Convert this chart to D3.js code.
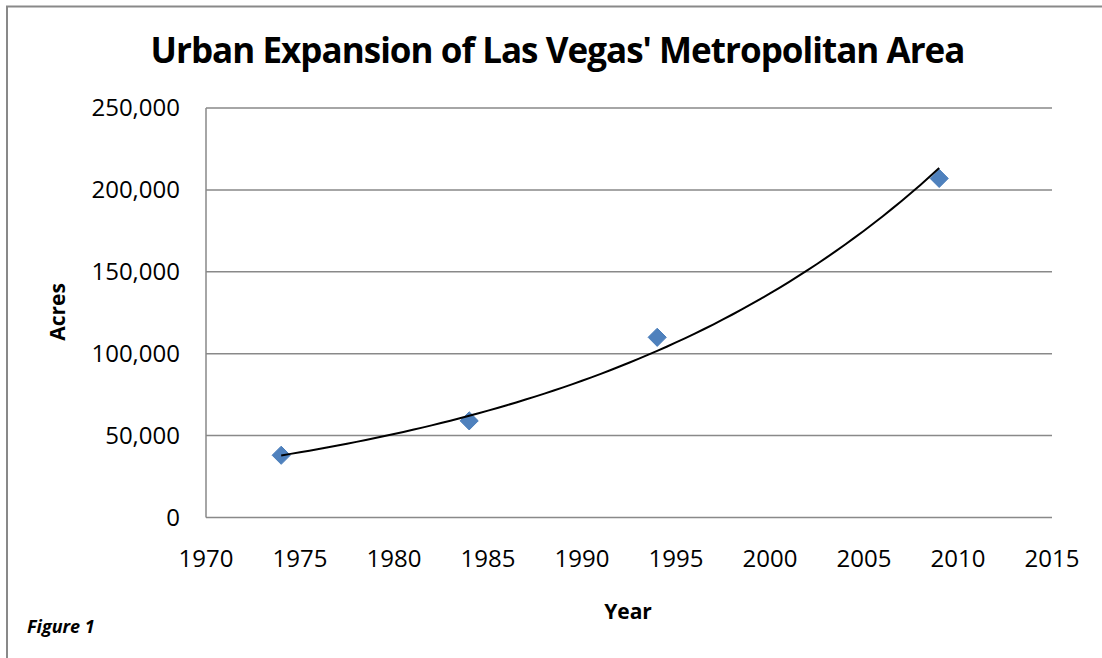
<!DOCTYPE html>
<html>
<head>
<meta charset="utf-8">
<script src="https://cdn.jsdelivr.net/npm/d3@7"></script>
<style>
  body { margin: 0; background: #fff; }
  svg { display: block; font-family: "Open Sans", sans-serif; }
</style>
</head>
<body>
<div id="chart"></div>
<script>
// Data
const years = [1974, 1984, 1994, 2009];
const acres = [38000, 59000, 110000, 207000];
const xTicks = [1970, 1975, 1980, 1985, 1990, 1995, 2000, 2005, 2010, 2015];
const yTicks = [0, 50000, 100000, 150000, 200000, 250000];

const width = 1102, height = 658;
const plot = { left: 206, right: 1052, top: 108, bottom: 517.5 };
const gridColor = "#898989";

const svg = d3.select("#chart").append("svg")
    .attr("width", width)
    .attr("height", height);

// Outer chart border (right/bottom edges fall outside the window)
svg.append("rect")
    .attr("x", 7).attr("y", 6.5)
    .attr("width", width + 20).attr("height", height + 20)
    .attr("fill", "none")
    .attr("stroke", gridColor)
    .attr("stroke-width", 2);

const x = d3.scaleLinear().domain([1970, 2015]).range([plot.left, plot.right]);
const y = d3.scaleLinear().domain([0, 250000]).range([plot.bottom, plot.top]);

// Horizontal gridlines
svg.append("g")
    .selectAll("line")
    .data(yTicks.filter(d => d > 0))
    .enter()
    .append("line")
    .attr("x1", plot.left).attr("x2", plot.right)
    .attr("y1", d => y(d)).attr("y2", d => y(d))
    .attr("stroke", gridColor)
    .attr("stroke-width", 1.5);

// Axes lines
svg.append("line")
    .attr("x1", plot.left).attr("x2", plot.left)
    .attr("y1", plot.top).attr("y2", plot.bottom)
    .attr("stroke", gridColor).attr("stroke-width", 1.5);
svg.append("line")
    .attr("x1", plot.left).attr("x2", plot.right)
    .attr("y1", plot.bottom).attr("y2", plot.bottom)
    .attr("stroke", gridColor).attr("stroke-width", 1.5);

// Tick labels
const fmt = d3.format(",");
svg.append("g")
    .selectAll("text")
    .data(yTicks)
    .enter()
    .append("text")
    .attr("x", 180)
    .attr("y", d => y(d) + 8)
    .attr("text-anchor", "end")
    .style("font-size", "24px")
    .style("fill", "#000")
    .text(d => fmt(d));

svg.append("g")
    .selectAll("text")
    .data(xTicks)
    .enter()
    .append("text")
    .attr("x", d => x(d))
    .attr("y", 567)
    .attr("text-anchor", "middle")
    .style("font-size", "24px")
    .style("fill", "#000")
    .text(d => d);

// Exponential trendline (least squares on log values, like Excel)
const logs = acres.map(v => Math.log(v));
const mx = d3.mean(years), my = d3.mean(logs);
const b = d3.sum(years, (v, i) => (v - mx) * (logs[i] - my)) / d3.sum(years, v => (v - mx) * (v - mx));
const a = my - b * mx;
const trendYears = d3.range(years[0], years[years.length - 1] + 0.01, 0.5);

const line = d3.line()
    .x(d => x(d))
    .y(d => y(Math.exp(a + b * d)));

// Markers
const diamond = d3.symbol().type(d3.symbolDiamond2).size(210);
svg.append("g")
    .selectAll("path")
    .data(years)
    .enter()
    .append("path")
    .attr("transform", (d, i) => `translate(${x(d)},${y(acres[i])})`)
    .attr("d", diamond)
    .attr("fill", "#4F81BD")
    .attr("stroke", "#4A7EBB")
    .attr("stroke-width", 1);

svg.append("path")
    .datum(trendYears)
    .attr("d", line)
    .attr("fill", "none")
    .attr("stroke", "#000")
    .attr("stroke-width", 2);

// Title, squeezed with letter spacing to the reference width
const titleText = "Urban Expansion of Las Vegas' Metropolitan Area";
const title = svg.append("text")
    .attr("x", 557.5)
    .attr("y", 63)
    .attr("text-anchor", "middle")
    .style("font-size", "35px")
    .style("font-weight", "bold")
    .style("fill", "#000")
    .text(titleText);
const tw = title.node().getComputedTextLength();
if (tw > 814) title.style("letter-spacing", ((814 - tw) / titleText.length) + "px");

// Axis titles
svg.append("text")
    .attr("transform", "translate(65,312) rotate(-90)")
    .attr("text-anchor", "middle")
    .style("font-size", "21px")
    .style("font-weight", "bold")
    .style("fill", "#000")
    .text("Acres");

svg.append("text")
    .attr("x", 628)
    .attr("y", 619)
    .attr("text-anchor", "middle")
    .style("font-size", "21px")
    .style("font-weight", "bold")
    .style("fill", "#000")
    .text("Year");

svg.append("text")
    .attr("x", 27)
    .attr("y", 633)
    .style("font-size", "18px")
    .style("font-weight", "bold")
    .style("font-style", "italic")
    .style("fill", "#000")
    .text("Figure 1");
</script>
</body>
</html>
